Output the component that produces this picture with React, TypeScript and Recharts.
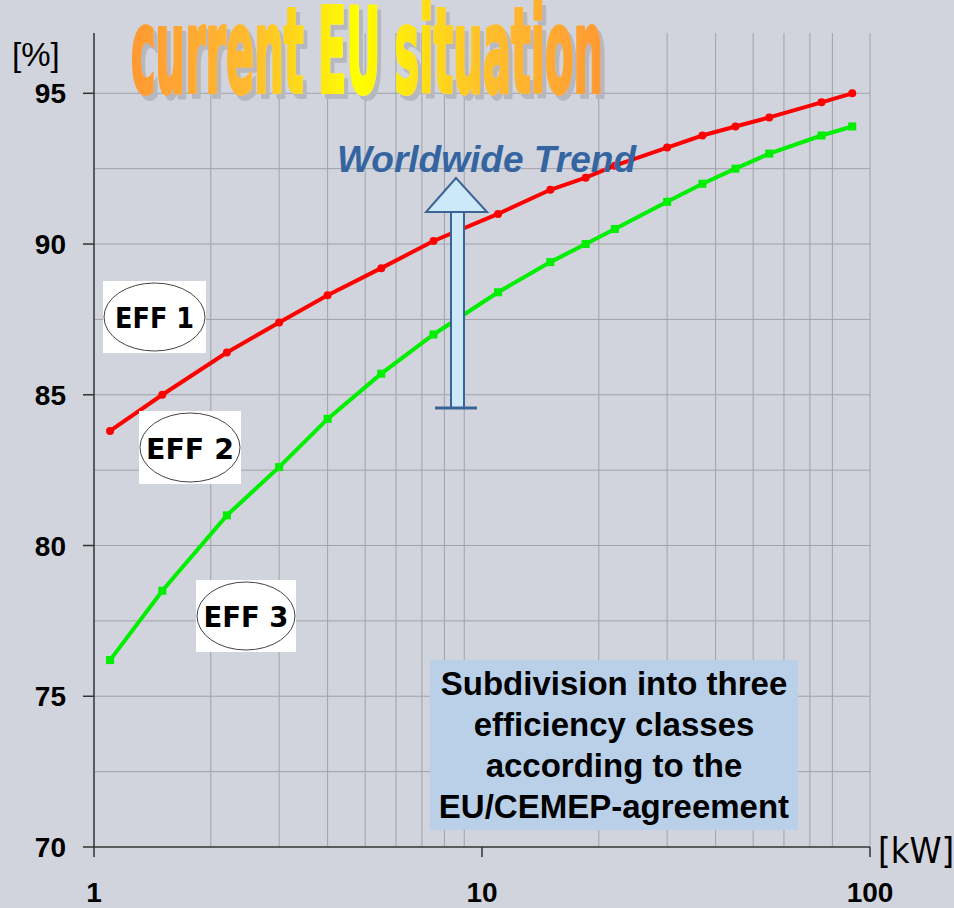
import React from "react";
import {
  LineChart,
  Line,
  XAxis,
  YAxis,
  CartesianGrid,
} from "recharts";

// rated output [kW] (standard motor sizes)
const power = [1.1, 1.5, 2.2, 3, 4, 5.5, 7.5, 11, 15, 18.5, 22, 30, 37, 45, 55, 75, 90];
// efficiency limits [%]
const eff1 = [83.8, 85.0, 86.4, 87.4, 88.3, 89.2, 90.1, 91.0, 91.8, 92.2, 92.6, 93.2, 93.6, 93.9, 94.2, 94.7, 95.0];
const eff2 = [76.2, 78.5, 81.0, 82.6, 84.2, 85.7, 87.0, 88.4, 89.4, 90.0, 90.5, 91.4, 92.0, 92.5, 93.0, 93.6, 93.9];

const xTicks = [1, 10, 100];
const yTicks = [70, 75, 80, 85, 90, 95];
const xGrid = [2, 3, 4, 5, 6, 7, 8, 9, 20, 30, 40, 50, 60, 70, 80, 90, 100];
const yGrid = [72.5, 75, 77.5, 80, 82.5, 85, 87.5, 90, 92.5, 95];
const boxLines = [
  "Subdivision into three",
  "efficiency classes",
  "according to the",
  "EU/CEMEP-agreement",
];

const data = power.map((kw, i) => ({ kw, eff1: eff1[i], eff2: eff2[i] }));

const BG = "#d1d4dc";
const FONT = "'Liberation Sans', Arial, sans-serif";
const NARROW = "'Liberation Sans Narrow', 'DejaVu Sans Condensed', sans-serif";

const XTick = (props: any) => (
  <text
    x={props.x}
    y={902}
    textAnchor="middle"
    fontFamily={FONT}
    fontWeight="bold"
    fontSize={28}
    fill="#000"
  >
    {props.payload.value}
  </text>
);

const YTick = (props: any) => (
  <text
    x={66}
    y={props.y}
    dy={10}
    textAnchor="end"
    fontFamily={FONT}
    fontWeight="bold"
    fontSize={28}
    fill="#000"
  >
    {props.payload.value}
  </text>
);

const RedDot = (props: any) => (
  <circle cx={props.cx} cy={props.cy} r={4} fill="#ff0000" />
);

const GreenDot = (props: any) => (
  <rect x={props.cx - 4} y={props.cy - 4} width={8} height={8} fill="#00ee00" />
);

const EffLabel = ({ x, y, w, h, label, tw }: any) => (
  <g>
    <rect x={x} y={y} width={w} height={h} fill="#fff" />
    <ellipse cx={x + w / 2} cy={y + h / 2} rx={w / 2 - 1} ry={h / 2 - 2} fill="none" stroke="#444" strokeWidth={1} />
    <text
      x={x + w / 2}
      y={y + h / 2 + 11}
      textAnchor="middle"
      fontFamily="'DejaVu Sans', sans-serif"
      fontWeight="bold"
      fontSize={29}
      textLength={tw}
      lengthAdjust="spacingAndGlyphs"
      fill="#000"
    >
      {label}
    </text>
  </g>
);

export default function App() {
  return (
    <div style={{ position: "absolute", left: 0, top: 0, width: 954, height: 908, background: BG }}>
      <LineChart
        width={954}
        height={908}
        data={data}
        margin={{ top: 33, right: 84, bottom: 0, left: 0 }}
      >
        <CartesianGrid
          stroke="#a2a2a6"
          strokeWidth={1}
          verticalValues={xGrid}
          horizontalValues={yGrid}
        />
        <XAxis
          dataKey="kw"
          type="number"
          scale="log"
          domain={[1, 100]}
          ticks={xTicks}
          allowDataOverflow
          height={61}
          tickSize={10}
          axisLine={{ stroke: "#333", strokeWidth: 1.5 }}
          tickLine={{ stroke: "#333", strokeWidth: 1.5 }}
          tick={<XTick />}
        />
        <YAxis
          type="number"
          domain={[70, 97]}
          ticks={yTicks}
          allowDataOverflow
          width={94}
          tickSize={11}
          axisLine={{ stroke: "#333", strokeWidth: 1.5 }}
          tickLine={{ stroke: "#333", strokeWidth: 1.5 }}
          tick={<YTick />}
        />
        <Line
          dataKey="eff1"
          stroke="#ff0000"
          strokeWidth={4}
          dot={<RedDot />}
          activeDot={false}
          isAnimationActive={false}
        />
        <Line
          dataKey="eff2"
          stroke="#00ee00"
          strokeWidth={4}
          dot={<GreenDot />}
          activeDot={false}
          isAnimationActive={false}
        />
      </LineChart>

      <svg
        width={954}
        height={908}
        style={{ position: "absolute", left: 0, top: 0, pointerEvents: "none" }}
      >
        <defs>
          <linearGradient id="titleGrad" x1="0" y1="0" x2="1" y2="0">
            <stop offset="0" stopColor="#ff9933" />
            <stop offset="0.25" stopColor="#ffbb2e" />
            <stop offset="0.48" stopColor="#ffff00" />
            <stop offset="0.75" stopColor="#ffc02c" />
            <stop offset="1" stopColor="#ff9933" />
          </linearGradient>
          <filter id="titleShadow" x="-5%" y="-10%" width="115%" height="130%">
            <feFlood floodColor="#b6b8be" result="c" />
            <feComposite in="c" in2="SourceAlpha" operator="in" result="s" />
            <feOffset in="s" dx={4} dy={5} result="o" />
            <feMerge>
              <feMergeNode in="o" />
              <feMergeNode in="SourceGraphic" />
            </feMerge>
          </filter>
        </defs>

        {/* axis units */}
        <text x={12} y={66} fontFamily={FONT} fontSize={33} fill="#000">[%]</text>
        <text x={878} y={863} fontFamily={NARROW} fontSize={36} fill="#000">[kW]</text>

        {/* tall condensed title with drop shadow */}
        <g filter="url(#titleShadow)">
          <g transform="translate(131 92) scale(1 1.95)">
            <text
              x={0}
              y={0}
              fontFamily={NARROW}
              fontWeight="bold"
              fontSize={60}
              textLength={472}
              lengthAdjust="spacingAndGlyphs"
              fill="url(#titleGrad)"
              stroke="url(#titleGrad)"
              strokeWidth={2}
              strokeLinejoin="round"
            >
              current EU situation
            </text>
          </g>
        </g>

        {/* trend arrow */}
        <text
          x={337}
          y={172}
          fontFamily={FONT}
          fontWeight="bold"
          fontStyle="italic"
          fontSize={37}
          textLength={299}
          lengthAdjust="spacingAndGlyphs"
          fill="#3565a0"
        >
          Worldwide Trend
        </text>
        <rect x={451} y={212} width={13} height={196} fill="#cce9fa" stroke="#3b6496" strokeWidth={2} />
        <polygon points="456,178 426,212 487,212" fill="#cce9fa" stroke="#3b6496" strokeWidth={2} />
        <line x1={435} y1={408} x2={477} y2={408} stroke="#3b6496" strokeWidth={3} />

        {/* efficiency class labels */}
        <EffLabel x={103} y={281} w={103} h={72} label="EFF 1" tw={79} />
        <EffLabel x={139} y={411} w={102} h={73} label="EFF 2" tw={88} />
        <EffLabel x={196} y={580} w={100} h={72} label="EFF 3" tw={85} />

        {/* note box */}
        <rect x={430} y={660} width={368} height={170} fill="#b9d0e8" />
        {boxLines.map((line, i) => (
          <text
            key={line}
            x={614}
            y={695 + i * 41}
            textAnchor="middle"
            fontFamily={FONT}
            fontWeight="bold"
            fontSize={33}
            fill="#000"
          >
            {line}
          </text>
        ))}
      </svg>
    </div>
  );
}
